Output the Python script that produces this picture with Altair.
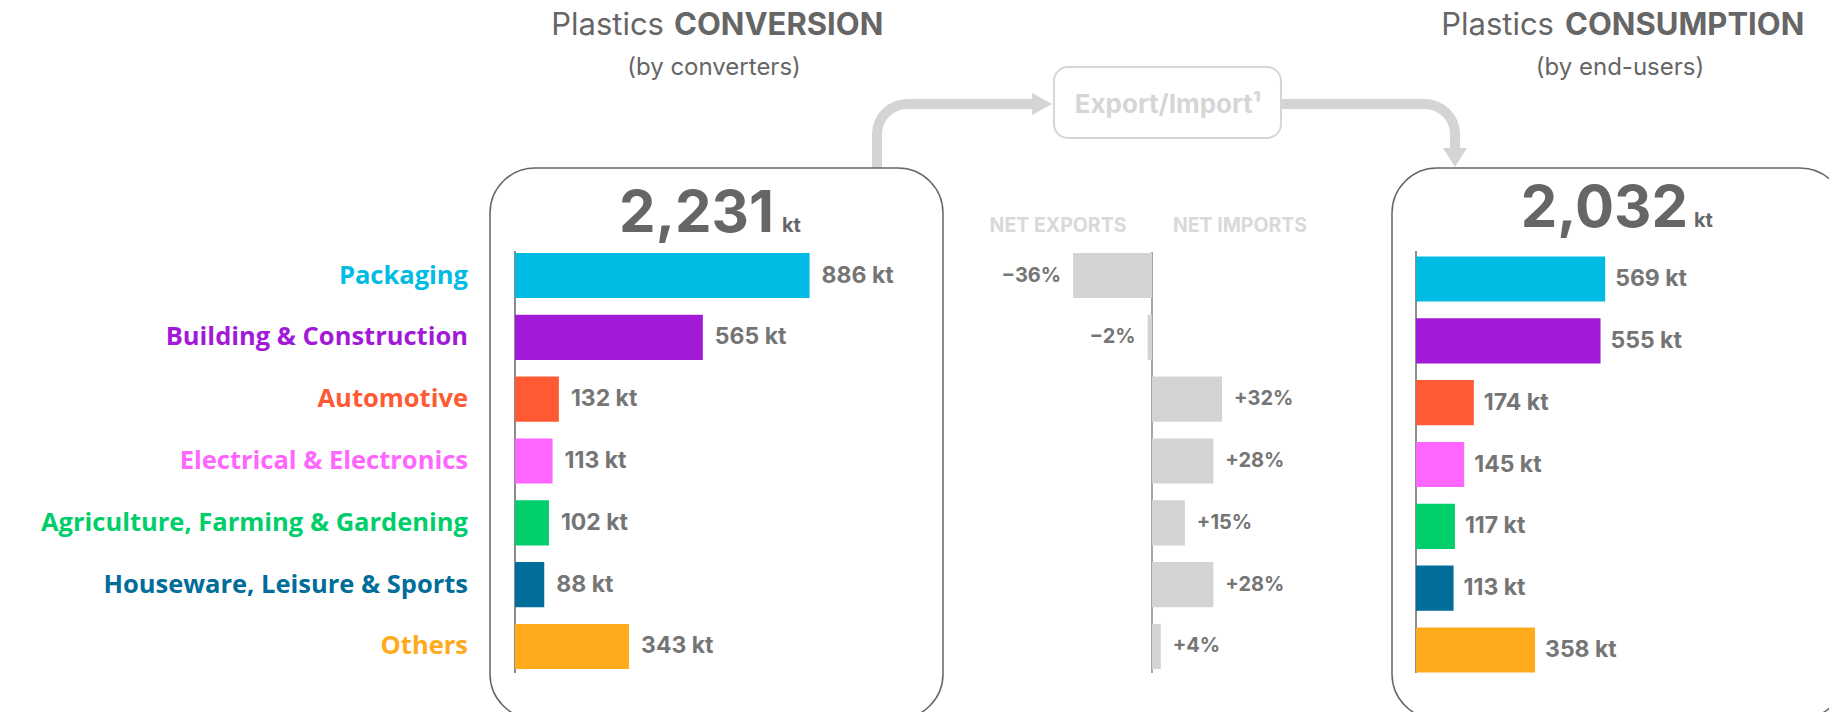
import altair as alt
import pandas as pd

# ---------------- data ----------------
categories = ["Packaging", "Building & Construction", "Automotive",
              "Electrical & Electronics", "Agriculture, Farming & Gardening",
              "Houseware, Leisure & Sports", "Others"]
conversion_kt = [886, 565, 132, 113, 102, 88, 343]
consumption_kt = [569, 555, 174, 145, 117, 113, 358]
net_trade_pct = [-36, -2, 32, 28, 15, 28, 4]
colors = ["#00BCE4", "#A21AD8", "#FF5A33", "#FF66FF", "#00CE6A", "#006D9B", "#FFAA1A"]
total_conversion = "2,231"
total_consumption = "2,032"

df = pd.DataFrame({"category": categories, "conv": conversion_kt,
                   "cons": consumption_kt, "pct": net_trade_pct})
df["conv_label"] = df["conv"].astype(str) + " kt"
df["cons_label"] = df["cons"].astype(str) + " kt"

FONT = "Inter"
LABEL_FONT = "Open Sans"
GREY = "#666666"
LABEL_GREY = "#757575"
LIGHT = "#d4d4d4"
one = pd.DataFrame({"a": [0]})

def V(v):
    return alt.value(v)

color_enc = alt.Color("category:N", scale=alt.Scale(domain=categories, range=colors), legend=None)

def yband(r0, r1):
    return alt.Y("category:N", sort=categories, axis=None,
                 scale=alt.Scale(domain=categories, range=[r0, r1],
                                 paddingInner=0.27, paddingOuter=0.135))

LEFT_Y = (236.6, 669.4)
RIGHT_Y = (240.1, 672.9)
left_x = alt.Scale(domain=[0, 1000], range=[507, 839.5])
right_x = alt.Scale(domain=[0, 1000], range=[1408, 1740.5])
mid_x = alt.Scale(domain=[-50, 50], range=[1034.5, 1253.5])

layers = []

# ---------------- arrows ----------------
def rule(x, y, x2=None, y2=None, color=LIGHT, width=10):
    enc = dict(x=V(x), y=V(y))
    if x2 is not None:
        enc["x2"] = V(x2)
    if y2 is not None:
        enc["y2"] = V(y2)
    return alt.Chart(one).mark_rule(color=color, strokeWidth=width, strokeCap="butt").encode(**enc)

layers += [
    rule(869, 160, y2=125.5),
    rule(898.5, 96, x2=1025),
    rule(1273, 96, x2=1417.5),
    rule(1447, 125.5, y2=140.5),
    alt.Chart(one).mark_arc(theta=4.71239, theta2=6.28319, radius=25, radius2=35, color=LIGHT)
        .encode(x=V(899), y=V(126)),
    alt.Chart(one).mark_arc(theta=0, theta2=1.5708, radius=25, radius2=35, color=LIGHT)
        .encode(x=V(1417), y=V(126)),
    alt.Chart(one).mark_point(shape="M -0.9 -1 L 0.9 0 L -0.9 1 Z", filled=True, size=484,
                              color=LIGHT, opacity=1, strokeWidth=0).encode(x=V(1034), y=V(96)),
    alt.Chart(one).mark_point(shape="M -1 -0.8 L 1 -0.8 L 0 0.8 Z", filled=True, size=576,
                              color=LIGHT, opacity=1, strokeWidth=0).encode(x=V(1447), y=V(149.5)),
]

# ---------------- boxes ----------------
def box(x, x2, y, y2, r, stroke, sw):
    return alt.Chart(one).mark_rect(cornerRadius=r, fill="white", stroke=stroke, strokeWidth=sw).encode(
        x=V(x), x2=V(x2), y=V(y), y2=V(y2))

layers += [
    box(482, 935, 160, 711, 45, GREY, 1.5),
    box(1384, 1837, 160, 711, 45, GREY, 1.5),
    box(1046, 1273, 59, 130, 14, "#d6d6d6", 2),
]

# ---------------- texts ----------------
def txt(s, x, y, size, weight="normal", color=GREY, align="center", baseline="alphabetic", font=FONT):
    return alt.Chart(one).mark_text(text=s, font=font, fontSize=size, fontWeight=weight, color=color,
                                    align=align, baseline=baseline).encode(x=V(x), y=V(y))

layers += [
    txt("Export/Import\u00b9", 1160, 105, 26, "bold", "#d6d6d6"),
    txt("Plastics", 656, 27, 31, 400, GREY, "right"),
    txt("CONVERSION", 666, 27, 31, "bold", GREY, "left"),
    txt("(by converters)", 706, 67, 24, 400, GREY),
    txt("Plastics", 1546, 27, 31, 400, GREY, "right"),
    txt("CONSUMPTION", 1557, 27, 31, "bold", GREY, "left"),
    txt("(by end-users)", 1612, 67, 24, 400, GREY),
    txt(total_conversion, 766, 224, 58, "bold", GREY, "right"),
    txt("kt", 774, 224, 20, "bold", GREY, "left"),
    txt(total_consumption, 1680, 219, 58, "bold", GREY, "right"),
    txt("kt", 1686, 219, 20, "bold", GREY, "left"),
    txt("NET EXPORTS", 1050, 224, 19.5, "bold", "#d9d9d9"),
    txt("NET IMPORTS", 1232, 224, 19.5, "bold", "#d9d9d9"),
]

# ---------------- axis lines ----------------
layers += [
    rule(507, 243, y2=665, color=GREY, width=1.5),
    rule(1408, 243, y2=665, color=GREY, width=1.5),
    rule(1144, 244, y2=665, color="#888888", width=1.5),
]

# ---------------- bars ----------------
base = alt.Chart(df)
layers += [
    base.mark_bar().encode(x=alt.X("conv:Q", scale=left_x, axis=None), y=yband(*LEFT_Y), color=color_enc),
    base.mark_text(align="left", baseline="middle", dx=12, font=FONT, fontSize=23, fontWeight="bold",
                   color=LABEL_GREY).encode(x=alt.X("conv:Q", scale=left_x, axis=None),
                                            y=yband(*LEFT_Y), text="conv_label:N"),
    base.mark_text(align="right", baseline="middle", font=LABEL_FONT, fontSize=25.5, fontWeight="bold")
        .encode(x=V(460), y=yband(*LEFT_Y), text="category:N", color=color_enc),
    base.mark_bar().encode(x=alt.X("cons:Q", scale=right_x, axis=None), y=yband(*RIGHT_Y), color=color_enc),
    base.mark_text(align="left", baseline="middle", dx=10, font=FONT, fontSize=23, fontWeight="bold",
                   color=LABEL_GREY).encode(x=alt.X("cons:Q", scale=right_x, axis=None),
                                            y=yband(*RIGHT_Y), text="cons_label:N"),
    base.mark_bar(color="#d3d3d3").encode(x=alt.X("pct:Q", scale=mid_x, axis=None), y=yband(*LEFT_Y)),
    base.transform_filter("datum.pct < 0").transform_calculate(frac="datum.pct / 100")
        .mark_text(align="right", baseline="middle", dx=-12, font=FONT, fontSize=20, fontWeight="bold",
                   color=LABEL_GREY)
        .encode(x=alt.X("pct:Q", scale=mid_x, axis=None), y=yband(*LEFT_Y),
                text=alt.Text("frac:Q", format="+.0%")),
    base.transform_filter("datum.pct >= 0").transform_calculate(frac="datum.pct / 100")
        .mark_text(align="left", baseline="middle", dx=12, font=FONT, fontSize=20, fontWeight="bold",
                   color=LABEL_GREY)
        .encode(x=alt.X("pct:Q", scale=mid_x, axis=None), y=yband(*LEFT_Y),
                text=alt.Text("frac:Q", format="+.0%")),
]

chart = alt.layer(*layers).resolve_scale(x="independent", y="independent", color="independent").properties(
    width=1821, height=704, padding=0, autosize=alt.AutoSizeParams(type="none"),
    background="white",
).configure_view(strokeWidth=0)

chart.save("out.html", embed_options={"renderer": "svg", "actions": False})
